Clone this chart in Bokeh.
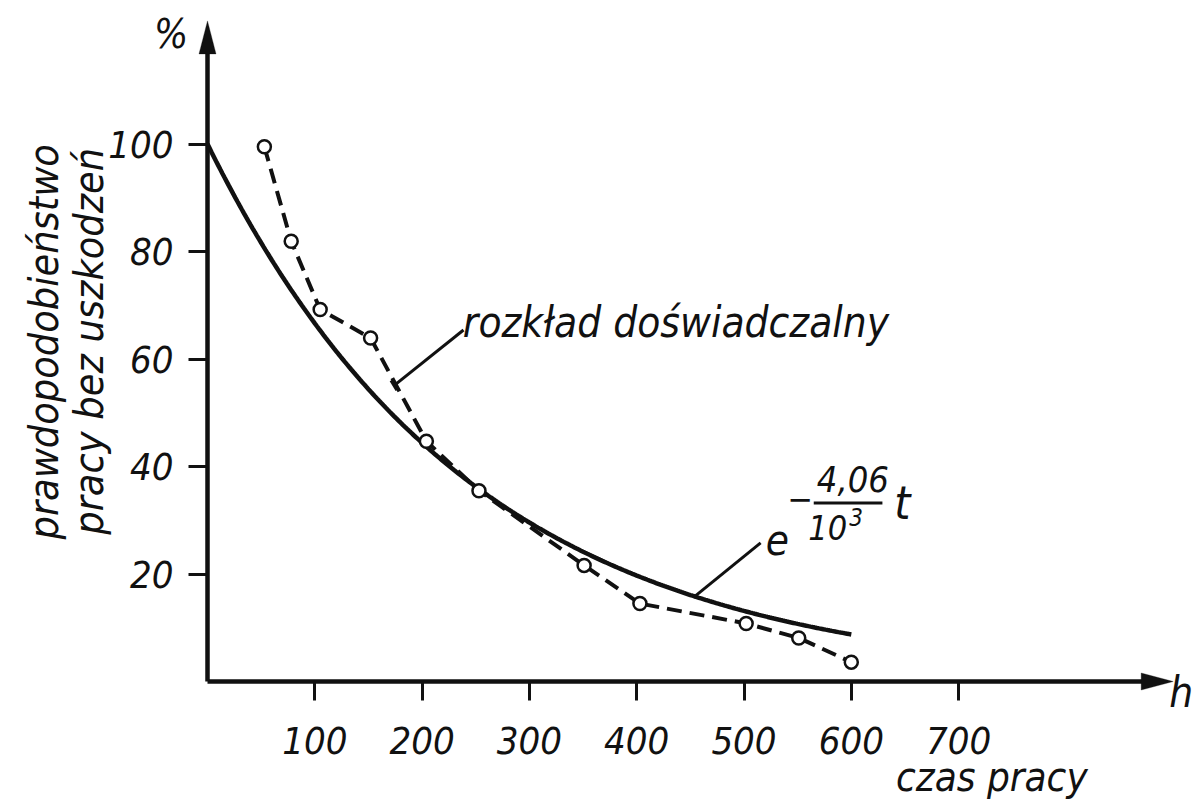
import numpy as np
from bokeh.plotting import figure
from bokeh.models import Range1d, Label, FixedTicker, PolyAnnotation
from bokeh.embed import file_html
from bokeh.resources import INLINE

# ---------------- data ----------------
exp_t = [53, 78, 105, 152, 204, 253, 351, 403, 502, 551, 600]          # h
exp_r = [99.5, 81.9, 69.2, 63.9, 44.7, 35.5, 21.6, 14.5, 10.8, 8.1, 3.6]  # %
model_rate = 4.06e-3          # 4,06 / 10^3  [1/h]
model_t_end = 600
x_ticks = [100, 200, 300, 400, 500, 600, 700]
y_ticks = [20, 40, 60, 80, 100]

model_t = np.linspace(0, model_t_end, 301)
model_r = 100.0 * np.exp(-model_rate * model_t)

FONT = "DejaVu Sans Condensed"
INK = "#111111"

W, H = 1196, 806
SX, SY = 1.073, 5.375          # px per data unit
X0 = -207 / SX
X1 = X0 + W / SX
Y1 = 681 / SY
Y0 = Y1 - H / SY
X_TIP = 900.0                   # end of the time axis arrow
Y_TIP = 122.9                   # end of the % axis arrow

p = figure(width=W, height=H,
           x_range=Range1d(X0, X1), y_range=Range1d(Y0, Y1),
           output_backend="svg", toolbar_location=None,
           min_border=0)
p.grid.visible = False
p.outline_line_color = None
p.background_fill_color = "white"
p.border_fill_color = "white"

for ax, ticks in ((p.xaxis, x_ticks), (p.yaxis, y_ticks)):
    ax.fixed_location = 0
    ax.ticker = FixedTicker(ticks=ticks)
    ax.axis_line_color = None
    ax.major_tick_line_width = 3
    ax.major_tick_line_color = INK
    ax.major_tick_in = 0
    ax.major_tick_out = 19
    ax.minor_tick_in = 0
    ax.minor_tick_out = 0
    ax.major_label_text_font = FONT
    ax.major_label_text_font_style = "italic"
    ax.major_label_text_font_size = "38px"
    ax.major_label_text_color = INK
p.xaxis.major_label_standoff = 26
p.yaxis.major_label_standoff = 15

# axis lines
p.line([0, X_TIP - 20], [0, 0], line_width=4.5, line_color=INK)
p.line([0, 0], [0, Y_TIP - 4], line_width=4.5, line_color=INK)

# axis arrow heads
xh_len = 32 / SX
xh_w = 8.5 / SY
p.add_layout(PolyAnnotation(xs=[X_TIP, X_TIP - xh_len, X_TIP - xh_len],
                            ys=[0, xh_w, -xh_w],
                            fill_color=INK, fill_alpha=1, line_color=INK, line_width=1))
yh_len = 33 / SY
yh_w = 8.5 / SX
p.add_layout(PolyAnnotation(xs=[0, -yh_w, yh_w],
                            ys=[Y_TIP, Y_TIP - yh_len, Y_TIP - yh_len],
                            fill_color=INK, fill_alpha=1, line_color=INK, line_width=1))

# theoretical curve
p.line(model_t, model_r, line_width=4.5, line_color=INK)
# experimental distribution
p.line(exp_t, exp_r, line_width=4, line_color=INK, line_dash="15 8")
p.scatter(exp_t, exp_r, size=13, marker="circle", fill_color="white",
          line_color=INK, line_width=2.5)

# leader lines
p.line([238.6, 173.5], [65.4, 55.0], line_width=3, line_color=INK)
p.line([171.0, 176.5], [56.0, 54.2], line_width=3, line_color=INK)
p.line([515.5, 452.7], [25.8, 15.6], line_width=3, line_color=INK)

# fraction bar
p.line([565.0, 629.0], [33.2, 33.2], line_width=3, line_color=INK)


def lab(x, y, text, size, align="center", baseline="middle", angle=0.0):
    p.add_layout(Label(x=x, y=y, text=text, text_font=FONT,
                       text_font_style="italic", text_font_size=f"{size}px",
                       text_color=INK, text_align=align, text_baseline=baseline,
                       angle=angle))


lab(-34.0, 120.5, "%", 40)
lab(907.5, -2.0, "h", 42)
lab(731.0, -17.8, "czas pracy", 40)
lab(238.0, 66.8, "rozkład doświadczalny", 42, align="left")
lab(-152.5, 63.2, "prawdopodobieństwo", 41, angle=np.pi / 2)
lab(-110.0, 63.3, "pracy bez uszkodzeń", 41, angle=np.pi / 2)

# formula  e^(-4,06/10^3 t)
lab(531.0, 26.5, "e", 42)
lab(552.5, 34.0, "\u2212", 34)
lab(601.5, 37.6, "4,06", 36)
lab(578.0, 28.6, "10", 34)
lab(604.5, 30.6, "3", 24)
lab(647.5, 33.3, "t", 46)

open("out.html", "w").write(file_html(p, INLINE))
